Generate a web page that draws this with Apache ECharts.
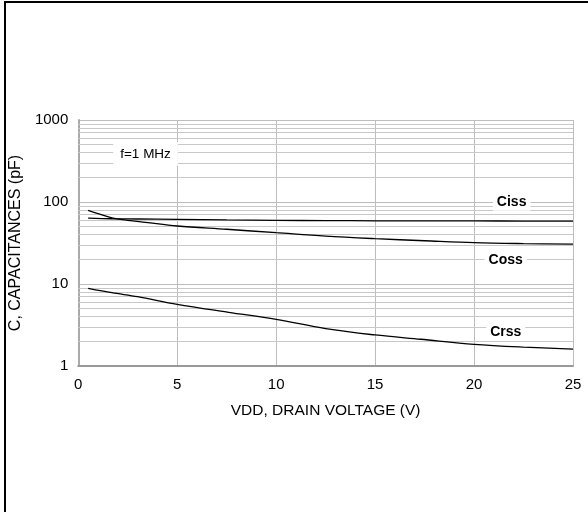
<!DOCTYPE html>
<html>
<head>
<meta charset="utf-8">
<script src="https://cdn.jsdelivr.net/npm/echarts@6/dist/echarts.min.js"></script>
<style>
  html, body { margin: 0; padding: 0; background: #fff; overflow: hidden; width: 588px; height: 512px; }
  #chart { position: absolute; left: 0; top: 0; width: 588px; height: 512px; }
  #frameL { position: absolute; left: 4px; top: 1px; width: 2px; height: 511px; background: #000; pointer-events: none; }
  #frameT { position: absolute; left: 4px; top: 1px; width: 584px; height: 2px; background: #000; pointer-events: none; }
</style>
</head>
<body>
<div id="chart"></div>
<div id="frameL"></div>
<div id="frameT"></div>
<script>
// ---- data ----
const xTitle = 'VDD, DRAIN VOLTAGE (V)';
const yTitle = 'C, CAPACITANCES (pF)';
const xTicks = [0, 5, 10, 15, 20, 25];
const yTicks = [1, 10, 100, 1000];
const minorGrid = [2,3,4,5,6,7,8,9,20,30,40,50,60,70,80,90,200,300,400,500,600,700,800,900];

const cissX = [0.5, 1.7, 3, 5, 7.5, 10, 12.5, 15, 17.5, 20, 22.5, 25];
const cissY = [63.5, 62.5, 62, 61.5, 60.5, 59.8, 59.3, 59, 58.8, 58.7, 58.6, 58.6];

const cossX = [0.5, 1, 1.7, 2.5, 3.4, 5, 7.5, 10, 12.5, 15, 17.5, 20, 22.5, 25];
const cossY = [79, 72, 64, 59.8, 56.5, 51, 46.5, 42.2, 38.3, 35.7, 33.7, 31.9, 31.1, 30.7];

const crssX = [0.5, 1.7, 3, 5, 7.6, 10, 12.5, 15, 17.3, 20, 22.5, 25];
const crssY = [8.86, 7.83, 7.0, 5.65, 4.52, 3.71, 2.85, 2.39, 2.12, 1.84, 1.7, 1.61];

const seriesNames = ['Ciss', 'Coss', 'Crss'];
const noteText = 'f=1 MHz';
// annotation anchors (data coordinates)
const labelAnchors = [[21.9, 101], [21.6, 19.6], [21.6, 2.6]];
const noteAnchor = [3.4, 385];

// ---- chart ----
const pairs = (xs, ys) => xs.map((x, i) => [x, ys[i]]);
const FONT = '"Liberation Sans", Arial, sans-serif';

const chart = echarts.init(document.getElementById('chart'), null, { renderer: 'canvas' });

function curve(name, xs, ys, anchor) {
  return {
    name: name,
    type: 'line',
    data: pairs(xs, ys),
    smooth: 0.35,
    showSymbol: false,
    symbol: 'none',
    lineStyle: { color: '#000', width: 1.3 },
    z: 5,
    silent: true,
    markPoint: {
      symbol: 'circle',
      symbolSize: 0,
      silent: true,
      data: [{ coord: anchor, value: name }],
      label: {
        show: true,
        position: 'inside',
        formatter: name,
        color: '#000',
        fontFamily: FONT,
        fontWeight: 'bold',
        fontSize: 14,
        backgroundColor: '#fff',
        padding: [2, 4, 2, 4]
      }
    }
  };
}

const option = {
  animation: false,
  backgroundColor: '#fff',
  grid: { left: 78, right: 15, top: 120, bottom: 146, containLabel: false },
  xAxis: {
    type: 'value',
    min: 0, max: 25, interval: 5,
    name: xTitle,
    nameLocation: 'middle',
    nameGap: 37,
    nameTextStyle: { color: '#000', fontFamily: FONT, fontSize: 15.5 },
    axisLine: { show: true, onZero: false, lineStyle: { color: '#999', width: 2 } },
    axisTick: { show: false },
    axisLabel: { color: '#000', fontFamily: FONT, fontSize: 15, margin: 11,
                 formatter: v => xTicks.includes(v) ? String(v) : '' },
    splitLine: { show: true, showMinLine: false, showMaxLine: true, lineStyle: { color: '#bdbdbd', width: 1 } }
  },
  yAxis: {
    type: 'log',
    logBase: 10,
    min: 1, max: 1000,
    name: yTitle,
    nameLocation: 'middle',
    nameGap: 50,
    nameTextStyle: { color: '#000', fontFamily: FONT, fontSize: 16 },
    axisLine: { show: true, lineStyle: { color: '#aaa', width: 2 } },
    axisTick: { show: false },
    axisLabel: { color: '#000', fontFamily: FONT, fontSize: 15, margin: 10,
                 formatter: v => yTicks.includes(Math.round(v)) ? String(Math.round(v)) : '' },
    splitLine: { show: true, showMinLine: false, showMaxLine: true, lineStyle: { color: '#bdbdbd', width: 1 } }
  },
  series: [
    {
      name: 'grid',
      type: 'line',
      data: [],
      silent: true,
      z: 1,
      markLine: {
        silent: true,
        symbol: ['none', 'none'],
        label: { show: false },
        lineStyle: { color: '#c8c8c8', width: 1, type: 'solid' },
        emphasis: { disabled: true },
        data: minorGrid.map(v => ({ yAxis: v }))
      },
      markPoint: {
        symbol: 'circle',
        symbolSize: 0,
        silent: true,
        data: [{ coord: noteAnchor, value: noteText }],
        label: {
          show: true,
          position: 'inside',
          formatter: noteText,
          color: '#000',
          fontFamily: FONT,
          fontSize: 13.5,
          backgroundColor: '#fff',
          padding: [5, 7, 5, 7]
        }
      }
    },
    curve(seriesNames[0], cissX, cissY, labelAnchors[0]),
    curve(seriesNames[1], cossX, cossY, labelAnchors[1]),
    curve(seriesNames[2], crssX, crssY, labelAnchors[2])
  ]
};

chart.setOption(option);
</script>
</body>
</html>
